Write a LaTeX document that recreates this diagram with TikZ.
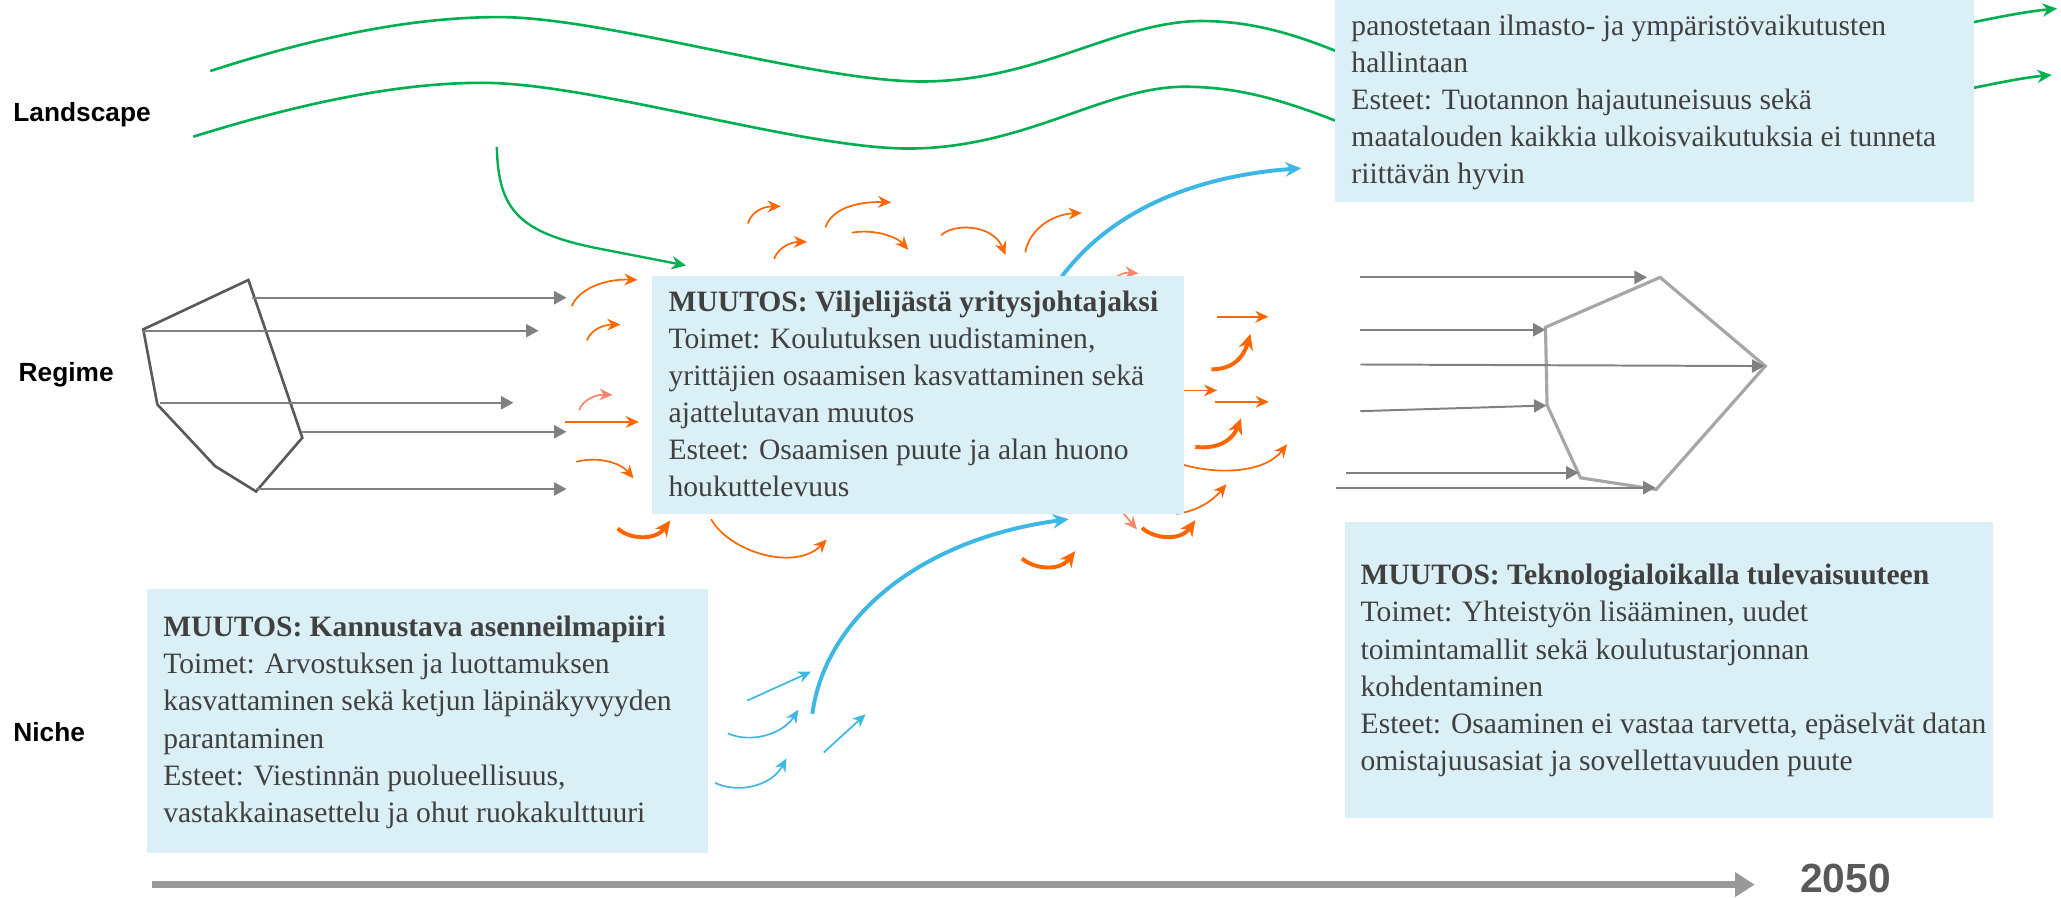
\documentclass[tikz,border=0pt]{standalone}
\usepackage{fontspec}
\setmainfont{Liberation Serif}
\newfontfamily\lsans{Liberation Sans}
\usetikzlibrary{arrows.meta}
\definecolor{boxfill}{HTML}{DAEFF6}
\definecolor{txt}{HTML}{404040}
\definecolor{grn}{HTML}{00B050}
\definecolor{blu}{HTML}{3DB7E4}
\definecolor{org}{HTML}{FF6600}
\definecolor{sal}{HTML}{F4876A}
\definecolor{gryA}{HTML}{808080}
\definecolor{gryD}{HTML}{595959}
\definecolor{gryL}{HTML}{A6A6A6}
\definecolor{tline}{HTML}{999999}
\begin{document}
\begin{tikzpicture}[x=1pt,y=-1pt,
  boxbg/.style={fill=boxfill, draw=none, inner sep=0pt, outer sep=0pt, anchor=north west},
  boxtext/.style={anchor=base west, align=left, inner sep=0pt, text=txt, font=\fontsize{22.5}{28.2}\selectfont},
  lvl/.style={anchor=west, inner sep=0pt, font=\lsans\bfseries\fontsize{20}{24}\selectfont},
  wave/.style={draw=grn, line width=2pt},
  grnarr/.style={draw=grn, line width=1.8pt, -{Stealth[length=11pt,width=10pt]}},
  grayarr/.style={draw=gryA, line width=1.5pt, -{Triangle[length=9.5pt,width=10pt]}},
  othin/.style={draw=org, line width=1.3pt, -{Stealth[length=10pt,width=9pt]}},
  osal/.style={draw=sal, line width=1.3pt, -{Stealth[length=10pt,width=9pt]}},
  othick/.style={draw=org, line width=3pt, -{Stealth[length=12pt,width=11pt]}},
  bthin/.style={draw=blu, line width=1.3pt, -{Stealth[length=10pt,width=9pt]}},
  bthick/.style={draw=blu, line width=3pt, -{Stealth[length=12pt,width=11pt]}},
  poly/.style={line width=2pt, line join=miter}
]
\useasboundingbox (0,0) rectangle (1568,683);

% level labels
\node[lvl] (lland) at (10,87) {Landscape};
\node[lvl] (lreg) at (14,285) {Regime};
\node[lvl] (lniche) at (10,557) {Niche};

% landscape waves
\draw[wave] (160,54) .. controls (250,25) and (320,13) .. (380,13)
  .. controls (460,13) and (620,62) .. (701,62)
  .. controls (790,62) and (850,16) .. (914,16)
  .. controls (960,16) and (1000,30) .. (1060,58);
\draw[wave] (147,104) .. controls (240,75) and (310,63) .. (367,63)
  .. controls (450,63) and (610,113) .. (691,113)
  .. controls (780,113) and (840,66) .. (901,66)
  .. controls (950,66) and (990,80) .. (1060,110);
\draw[grnarr, line width=2pt] (1496,18) .. controls (1520,13) and (1540,9) .. (1565,6.5);
\draw[grnarr, line width=2pt] (1496,68) .. controls (1520,63) and (1540,59) .. (1561,57);
\draw[grnarr] (378,112) .. controls (379,160) and (395,177) .. (455,189) -- (522,202);

% orange arrows, top cluster
\draw[othin] (569,170) .. controls (572,160) and (582,157) .. (594,157);
\draw[othin] (628,173) .. controls (632,160) and (650,153) .. (678,154);
\draw[othin] (589,197) .. controls (592,188) and (602,184) .. (614,184);
\draw[othin] (648,177) .. controls (665,174) and (682,180) .. (691,190);
\draw[othin] (716,179) .. controls (725,170) and (755,170) .. (765,194);
\draw[othin] (780,192) .. controls (783,175) and (800,163) .. (823,162);
\draw[osal] (845,216) .. controls (848,210) and (855,207) .. (866,208);
% orange arrows, left cluster
\draw[othin] (435,233) .. controls (440,220) and (460,212) .. (485,213);
\draw[othin] (446.5,259) .. controls (450,250) and (460,247) .. (472,247);
\draw[osal] (440.5,312) .. controls (444,303) and (455,300) .. (466,300.5);
\draw[othin] (430,321) -- (486,321);
\draw[othin] (438.4,351.3) .. controls (455,347) and (472,352) .. (482,364);
\draw[othick] (470,402) .. controls (478,410) and (498,412) .. (510,396);
\draw[othin] (541,395) .. controls (555,420) and (605,435) .. (629,410.5);
% orange arrows, right cluster
\draw[othin] (926,241) -- (965,241);
\draw[othick] (921.6,281) .. controls (938,281) and (946,272) .. (951.3,254);
\draw[othin] (895,297) -- (926,297);
\draw[othin] (924.7,305.7) -- (965.3,305.7);
\draw[othick] (909.4,340) .. controls (928,342) and (938,334) .. (944.2,318.3);
\draw[othin] (895,352) .. controls (925,362) and (962,360) .. (979.2,338);
\draw[othin] (895,391) .. controls (915,388) and (925,378) .. (933,368.3);
\draw[osal] (854.8,390.6) -- (865,402.8);
\draw[othick] (868.8,401.6) .. controls (878,410) and (898,412) .. (909.4,395.7);
\draw[othick] (777.5,424.9) .. controls (787,433) and (806,435) .. (818,419.3);

% blue arrows
\draw[bthick] (798,225) .. controls (840,155) and (920,133) .. (990,128);
\draw[bthick] (618,543) .. controls (628,470) and (700,410) .. (813,395);
\draw[bthin] (568.5,533) -- (617,511);
\draw[bthin] (553.7,558) .. controls (572,566) and (596,558) .. (607.3,540);
\draw[bthin] (544,595.6) .. controls (562,604) and (587,598) .. (598.3,577);
\draw[bthin] (626.7,572.5) -- (658.5,543.4);

% regime: left polygon and arrows
\draw[poly, draw=gryD] (189,213) -- (109,250.6) -- (119.7,307.7) -- (163.6,354.6) -- (194.8,373.9) -- (230,333) -- cycle;
\draw[grayarr] (191.5,226.5) -- (431,226.5);
\draw[grayarr] (109,251.6) -- (409.7,251.6);
\draw[grayarr] (122,306.4) -- (390.6,306.4);
\draw[grayarr] (230,328.5) -- (431,328.5);
\draw[grayarr] (194.8,372) -- (431,372);

% regime: right polygon and arrows
\draw[poly, draw=gryL, line width=2.4pt] (1263,211) -- (1175.8,249) -- (1177,308.2) -- (1202.4,363.5) -- (1260,372.4) -- (1343,278.5) -- cycle;
\draw[grayarr] (1035,211) -- (1253,211);
\draw[grayarr] (1035,250.9) -- (1175.8,250.9);
\draw[grayarr] (1035,277.3) -- (1342.4,278.5);
\draw[grayarr] (1035,312.8) -- (1176.5,308.5);
\draw[grayarr] (1024,359.7) -- (1201,359.7);
\draw[grayarr] (1016.5,371) -- (1259.5,371);

% boxes
\node[boxbg, minimum width=486pt, minimum height=164pt] (boxTR) at (1016,-10) {};
\node[boxbg, minimum width=405pt, minimum height=181pt] (boxM) at (496,210) {};
\node[boxbg, minimum width=427pt, minimum height=201pt] (boxBL) at (112,448) {};
\node[boxbg, minimum width=493pt, minimum height=225pt] (boxBR) at (1023,397) {};

% box texts (base anchor = baseline of the last line)
\node[boxtext] (tTR) at (1028,139.8) {panostetaan ilmasto- ja ympäristövaikutusten\\hallintaan\\Esteet: Tuotannon hajautuneisuus sekä\\maatalouden kaikkia ulkoisvaikutuksia ei tunneta\\riittävän hyvin};
\node[boxtext] (tM) at (508.5,378) {\textbf{MUUTOS: Viljelijästä yritysjohtajaksi}\\Toimet: Koulutuksen uudistaminen,\\yrittäjien osaamisen kasvattaminen sekä\\ajattelutavan muutos\\Esteet: Osaamisen puute ja alan huono\\houkuttelevuus};
\node[boxtext] (tBL) at (124,625.5) {\textbf{MUUTOS: Kannustava asenneilmapiiri}\\Toimet: Arvostuksen ja luottamuksen\\kasvattaminen sekä ketjun läpinäkyvyyden\\parantaminen\\Esteet: Viestinnän puolueellisuus,\\vastakkainasettelu ja ohut ruokakulttuuri};
\node[boxtext] (tBR) at (1035,586) {\textbf{MUUTOS: Teknologialoikalla tulevaisuuteen}\\Toimet: Yhteistyön lisääminen, uudet\\toimintamallit sekä koulutustarjonnan\\kohdentaminen\\Esteet: Osaaminen ei vastaa tarvetta, epäselvät datan\\omistajuusasiat ja sovellettavuuden puute};

% timeline
\coordinate (tl0) at (116,673);
\coordinate (tl1) at (1335,673);
\draw[draw=tline, line width=5pt, -{Triangle[length=15pt,width=18pt]}] (tl0) -- (tl1);
\node[anchor=center, inner sep=0pt, text=gryD, font=\lsans\bfseries\fontsize{31}{36}\selectfont] (year) at (1404,668) {2050};
\end{tikzpicture}
\end{document}
